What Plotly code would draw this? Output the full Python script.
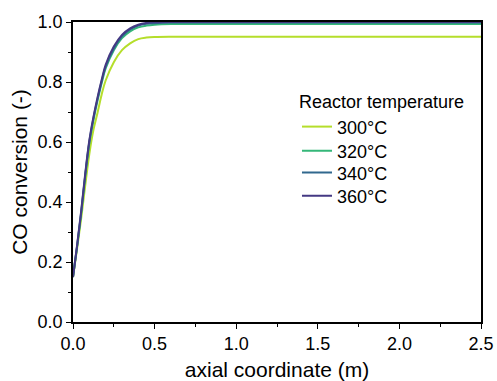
import plotly.graph_objects as go

# Axial positions along the reactor (m)
axial_m = [0, 0.025, 0.05, 0.075, 0.1, 0.125, 0.15, 0.175, 0.2, 0.25, 0.3,
           0.35, 0.4, 0.45, 0.5, 0.6, 0.8, 1.0, 1.5, 2.0, 2.5]

# CO conversion profiles for each reactor temperature
conv_300 = [0.15, 0.245, 0.345, 0.455, 0.56, 0.64, 0.697, 0.757, 0.805, 0.866,
            0.906, 0.929, 0.943, 0.948, 0.950, 0.951, 0.951, 0.951, 0.951, 0.951, 0.951]
conv_320 = [0.15, 0.25, 0.36, 0.485, 0.595, 0.672, 0.737, 0.795, 0.845, 0.906,
            0.946, 0.969, 0.982, 0.988, 0.991, 0.993, 0.993, 0.993, 0.993, 0.993, 0.993]
conv_340 = [0.15, 0.253, 0.365, 0.49, 0.60, 0.678, 0.743, 0.801, 0.851, 0.912,
            0.952, 0.975, 0.988, 0.994, 0.996, 0.998, 0.998, 0.998, 0.998, 0.998, 0.998]
conv_360 = [0.15, 0.255, 0.37, 0.495, 0.605, 0.683, 0.748, 0.806, 0.857, 0.918,
            0.957, 0.979, 0.991, 0.997, 0.999, 1.0, 1.0, 1.0, 1.0, 1.0, 1.0]

labels = ["300°C", "320°C", "340°C", "360°C"]
series = [conv_300, conv_320, conv_340, conv_360]
colors = ["#b5de2b", "#35b779", "#31688e", "#443983"]

font_family = "Liberation Sans, Arial, sans-serif"
legend_ids = ["legend", "legend2", "legend3", "legend4"]

fig = go.Figure()
for name, y, c, lg in zip(labels, series, colors, legend_ids):
    fig.add_trace(go.Scatter(
        x=axial_m, y=y, mode="lines", name=name, legend=lg,
        line=dict(color=c, width=2, shape="spline", smoothing=1.0),
    ))

axis_common = dict(
    showgrid=False, zeroline=False, showline=True, linecolor="black",
    linewidth=1.5, ticks="outside", ticklen=5, tickwidth=1.2, tickcolor="black",
    tickfont=dict(family=font_family, size=18, color="black"),
    automargin=False,
)

legend_font = dict(family=font_family, size=18, color="black")
legend_x = 0.549


def item_legend(y_center):
    return dict(x=legend_x, y=y_center, xanchor="left", yanchor="middle",
                bgcolor="rgba(0,0,0,0)", borderwidth=0, font=legend_font,
                itemwidth=30)


fig.update_layout(
    width=497, height=381,
    margin=dict(l=73, r=16, t=22, b=59),
    paper_bgcolor="white", plot_bgcolor="white",
    font=dict(family=font_family, color="black"),
    xaxis=dict(
        **axis_common, range=[0, 2.5], dtick=0.5, tickformat=".1f",
        mirror=True,
        minor=dict(ticks="outside", ticklen=3, dtick=0.25, tickcolor="black"),
        title=dict(text="axial coordinate (m)", font=dict(size=21), standoff=10),
    ),
    yaxis=dict(
        **axis_common, range=[0, 1.0], dtick=0.2, tickformat=".1f",
        mirror=True,
        minor=dict(ticks="outside", ticklen=3, dtick=0.1, tickcolor="black"),
        title=dict(text="CO conversion (-)", font=dict(size=21), standoff=4),
    ),
    # inward ticks along the top and right frame
    xaxis2=dict(overlaying="x", side="top", anchor="y", range=[0, 2.5],
                dtick=0.5, showticklabels=False, ticks="inside", ticklen=4,
                tickcolor="black", showgrid=False, zeroline=False,
                minor=dict(ticks="inside", ticklen=3, dtick=0.25, tickcolor="black")),
    yaxis2=dict(overlaying="y", side="right", anchor="x", range=[0, 1.0],
                dtick=0.2, showticklabels=False, ticks="inside", ticklen=4,
                tickcolor="black", showgrid=False, zeroline=False,
                minor=dict(ticks="inside", ticklen=3, dtick=0.1, tickcolor="black")),
    legend=dict(
        x=legend_x, y=0.79, xanchor="left", yanchor="top",
        bgcolor="rgba(0,0,0,0)", borderwidth=0, font=legend_font,
        title=dict(text="Reactor temperature", font=dict(size=18)),
        itemwidth=30,
    ),
    legend2=item_legend(0.57),
    legend3=item_legend(0.497),
    legend4=item_legend(0.42),
    showlegend=True,
)

fig.write_html("out.html")
